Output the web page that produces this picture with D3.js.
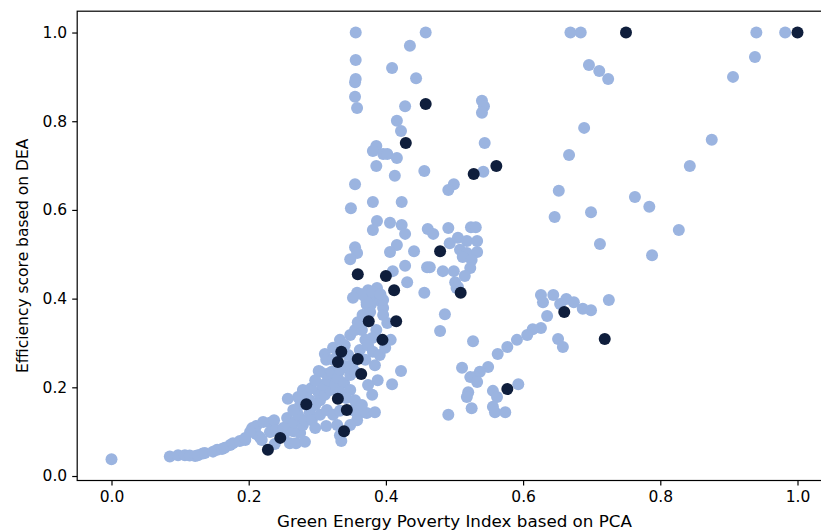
<!DOCTYPE html>
<html>
<head>
<meta charset="utf-8">
<script src="https://cdn.jsdelivr.net/npm/d3@7"></script>
<style>
  html, body { margin: 0; padding: 0; background: #ffffff; }
  svg { display: block; }
  text { font-family: "DejaVu Sans", sans-serif; fill: #000; }
</style>
</head>
<body>
<svg id="chart" width="821" height="532"></svg>
<script>
// Green energy poverty index (PCA) vs. DEA efficiency score, one point per observation
const otherPoints = [
  [0.356,1.000],[0.458,1.000],[0.669,1.000],[0.684,1.000],[0.940,1.000],[0.982,1.000],
  [0.435,0.970],[0.356,0.938],[0.409,0.920],[0.696,0.927],[0.711,0.913],[0.724,0.895],
  [0.938,0.945],[0.906,0.900],[0.444,0.897],[0.356,0.895],[0.355,0.888],[0.355,0.855],
  [0.358,0.830],[0.428,0.834],[0.540,0.846],[0.543,0.834],[0.540,0.819],[0.416,0.801],
  [0.422,0.778],[0.386,0.744],[0.381,0.733],[0.396,0.726],[0.402,0.726],[0.416,0.717],
  [0.386,0.699],[0.544,0.751],[0.542,0.686],[0.413,0.677],[0.456,0.688],[0.355,0.658],
  [0.499,0.658],[0.491,0.645],[0.381,0.618],[0.423,0.618],[0.349,0.604],[0.387,0.575],
  [0.381,0.555],[0.406,0.571],[0.423,0.566],[0.428,0.546],[0.461,0.557],[0.469,0.546],
  [0.491,0.559],[0.524,0.561],[0.531,0.561],[0.355,0.516],[0.358,0.503],[0.348,0.489],
  [0.416,0.521],[0.406,0.505],[0.441,0.507],[0.428,0.474],[0.460,0.471],[0.483,0.462],
  [0.499,0.462],[0.493,0.525],[0.505,0.537],[0.518,0.530],[0.533,0.530],[0.508,0.510],
  [0.518,0.503],[0.533,0.505],[0.512,0.494],[0.525,0.487],[0.523,0.469],[0.515,0.451],
  [0.501,0.437],[0.503,0.424],[0.464,0.471],[0.410,0.462],[0.431,0.437],[0.456,0.413],
  [0.486,0.365],[0.479,0.327],[0.527,0.304],[0.505,0.426],
  [0.689,0.785],[0.667,0.724],[0.875,0.758],[0.843,0.699],[0.652,0.643],[0.763,0.629],
  [0.784,0.607],[0.646,0.584],[0.699,0.595],[0.827,0.555],[0.712,0.523],[0.788,0.498],
  [0.626,0.408],[0.629,0.392],[0.644,0.408],[0.663,0.399],[0.674,0.392],[0.654,0.388],
  [0.687,0.377],[0.699,0.374],[0.725,0.397],[0.635,0.361],[0.626,0.334],[0.614,0.331],
  [0.606,0.318],[0.591,0.307],[0.577,0.291],[0.563,0.275],[0.549,0.246],[0.537,0.235],
  [0.530,0.223],[0.523,0.223],[0.511,0.244],[0.533,0.212],[0.520,0.189],[0.518,0.178],
  [0.525,0.153],[0.491,0.138],[0.556,0.192],[0.562,0.178],[0.593,0.207],[0.556,0.156],
  [0.559,0.144],[0.574,0.144],[0.651,0.309],[0.658,0.291],
  [0.000,0.038],[0.085,0.044],[0.097,0.047],[0.107,0.047],[0.114,0.046],[0.122,0.045],
  [0.126,0.047],[0.133,0.051],[0.136,0.052],[0.148,0.055],[0.154,0.059],[0.161,0.061],
  [0.165,0.064],[0.173,0.070],[0.177,0.074],[0.187,0.079],[0.195,0.081],
  [0.205,0.108],[0.211,0.113],[0.221,0.122],[0.231,0.120],[0.237,0.126],[0.211,0.095],
  [0.216,0.088],[0.231,0.099],[0.240,0.104],[0.250,0.108],[0.257,0.115],[0.251,0.090],
  [0.260,0.074],[0.269,0.074],[0.282,0.077],[0.275,0.097],[0.265,0.101],[0.256,0.131],
  [0.266,0.120],[0.279,0.115],[0.272,0.138],[0.282,0.126],[0.219,0.081],[0.238,0.072],
  [0.202,0.099],[0.195,0.086],
  [0.289,0.144],[0.297,0.160],[0.304,0.171],[0.302,0.187],[0.311,0.183],[0.319,0.194],
  [0.307,0.205],[0.316,0.216],[0.326,0.205],[0.292,0.126],[0.304,0.138],[0.314,0.149],
  [0.323,0.138],[0.333,0.147],[0.329,0.115],[0.313,0.113],[0.297,0.108],[0.279,0.194],
  [0.272,0.178],[0.257,0.174],[0.284,0.180],[0.291,0.198],[0.304,0.235],[0.313,0.230],
  [0.321,0.235],[0.330,0.221],[0.339,0.210],[0.333,0.189],[0.348,0.194],[0.342,0.176],
  [0.355,0.171],[0.351,0.149],[0.359,0.138],[0.372,0.142],[0.384,0.144],[0.358,0.126],
  [0.365,0.160],[0.333,0.092],[0.348,0.115],[0.335,0.079],[0.289,0.171],[0.275,0.160],
  [0.265,0.149],[0.297,0.216],
  [0.311,0.275],[0.323,0.289],[0.333,0.307],[0.340,0.295],[0.348,0.318],[0.355,0.329],
  [0.345,0.273],[0.351,0.250],[0.340,0.248],[0.333,0.239],[0.348,0.228],[0.355,0.235],
  [0.362,0.284],[0.370,0.307],[0.365,0.329],[0.359,0.347],[0.366,0.363],[0.372,0.386],
  [0.377,0.397],[0.371,0.401],[0.384,0.406],[0.391,0.395],[0.396,0.379],[0.378,0.386],
  [0.377,0.370],[0.396,0.363],[0.402,0.345],[0.386,0.329],[0.380,0.311],[0.374,0.295],
  [0.370,0.262],[0.381,0.280],[0.384,0.250],[0.391,0.273],[0.399,0.289],[0.407,0.307],
  [0.409,0.207],[0.422,0.237],[0.388,0.216],[0.374,0.205],[0.380,0.183],[0.358,0.413],
  [0.374,0.419],[0.387,0.424],[0.372,0.392],[0.396,0.397],[0.302,0.237],[0.313,0.262],
  [0.323,0.262],[0.330,0.273],[0.365,0.410],[0.380,0.415],[0.352,0.402],[0.392,0.410]
];

const highlightedPoints = [
  [1.000,1.000],[0.750,1.000],[0.458,0.839],[0.429,0.751],[0.561,0.699],[0.528,0.681],
  [0.479,0.507],[0.509,0.413],[0.359,0.455],[0.400,0.451],[0.412,0.419],[0.375,0.349],
  [0.415,0.349],[0.395,0.307],[0.335,0.280],[0.330,0.257],[0.359,0.264],[0.364,0.230],
  [0.284,0.162],[0.330,0.174],[0.343,0.149],[0.339,0.101],[0.246,0.086],[0.228,0.059],
  [0.660,0.370],[0.577,0.196],[0.719,0.309]
];

const xTicks = [0.0, 0.2, 0.4, 0.6, 0.8, 1.0];
const yTicks = [0.0, 0.2, 0.4, 0.6, 0.8, 1.0];
const xTitle = "Green Energy Poverty Index based on PCA";
const yTitle = "Efficiency score based on DEA";

const svg = d3.select("#chart");
const frame = { left: 77.2, right: 831.8, top: 11.2, bottom: 480.5 };
const fontSize = 15.5;

// padded domains (5% margin around the data extent)
const x = d3.scaleLinear().domain([-0.05, 1.05]).range([frame.left, frame.right]);
const y = d3.scaleLinear().domain([-0.0101, 1.0481]).range([frame.bottom, frame.top]);

const plot = svg.append("g");

plot.selectAll("circle.other")
  .data(otherPoints)
  .join("circle")
  .attr("class", "other")
  .attr("cx", d => x(d[0]))
  .attr("cy", d => y(d[1]))
  .attr("r", 6)
  .attr("fill", "#9bb4e0");

plot.selectAll("circle.highlight")
  .data(highlightedPoints)
  .join("circle")
  .attr("class", "highlight")
  .attr("cx", d => x(d[0]))
  .attr("cy", d => y(d[1]))
  .attr("r", 6)
  .attr("fill", "#0f1e3c");

// frame
svg.append("rect")
  .attr("x", frame.left).attr("y", frame.top)
  .attr("width", frame.right - frame.left)
  .attr("height", frame.bottom - frame.top)
  .attr("fill", "none").attr("stroke", "#000").attr("stroke-width", 1.2);

const xAxis = svg.append("g")
  .attr("transform", `translate(0,${frame.bottom})`)
  .call(d3.axisBottom(x).tickValues(xTicks).tickFormat(d3.format(".1f")).tickSize(5).tickPadding(5));
const yAxis = svg.append("g")
  .attr("transform", `translate(${frame.left},0)`)
  .call(d3.axisLeft(y).tickValues(yTicks).tickFormat(d3.format(".1f")).tickSize(5).tickPadding(5));

[xAxis, yAxis].forEach(g => {
  g.select(".domain").remove();
  g.selectAll(".tick line").attr("stroke", "#000").attr("stroke-width", 1.2);
  g.selectAll(".tick text").attr("font-size", fontSize).attr("font-family", "DejaVu Sans, sans-serif").attr("fill", "#000");
});

svg.append("text")
  .attr("x", (frame.left + frame.right) / 2)
  .attr("y", 527)
  .attr("text-anchor", "middle")
  .attr("font-size", fontSize)
  .attr("textLength", 355)
  .attr("lengthAdjust", "spacingAndGlyphs")
  .text(xTitle);

svg.append("text")
  .attr("transform", `translate(28,${(frame.top + frame.bottom) / 2 + 10}) rotate(-90)`)
  .attr("text-anchor", "middle")
  .attr("font-size", fontSize)
  .text(yTitle);
</script>
</body>
</html>
